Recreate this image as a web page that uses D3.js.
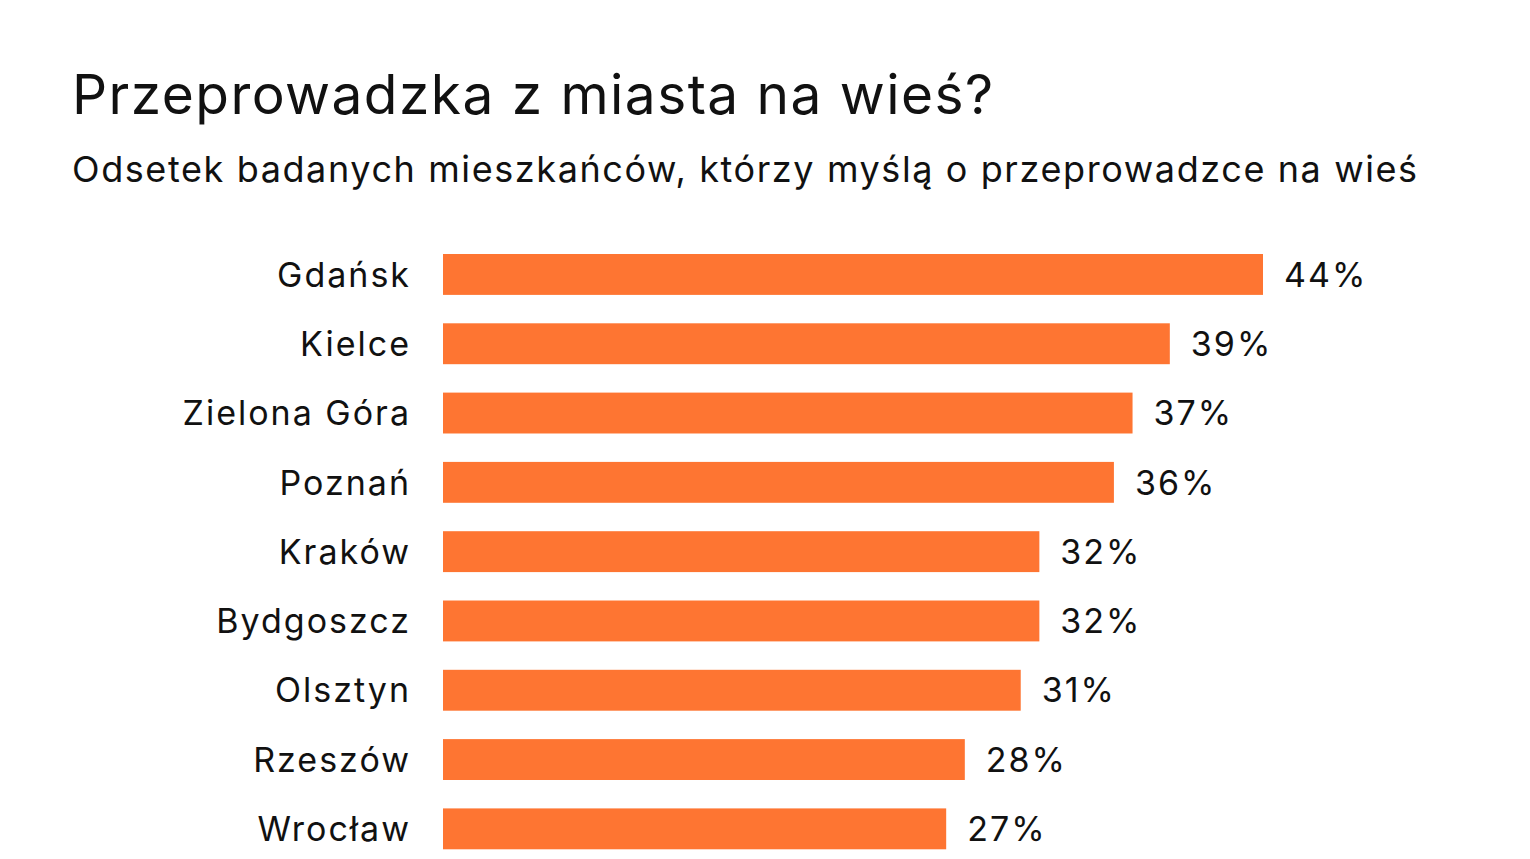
<!DOCTYPE html>
<html>
<head>
<meta charset="utf-8">
<script src="https://cdn.jsdelivr.net/npm/d3@7"></script>
<style>
  body { margin: 0; background: #fff; }
  svg { display: block; font-family: "Inter", "Noto Sans", sans-serif; }
  .title { font-size: 55px; fill: #111; letter-spacing: 1.45px; }
  .subtitle { font-size: 36px; fill: #111; letter-spacing: 1.6px; }
  .city { font-size: 34px; fill: #111; letter-spacing: 2px; }
  .value { font-size: 34px; fill: #111; letter-spacing: 2px; }
  .bar { fill: #fe7532; }
</style>
</head>
<body>
<div id="chart"></div>
<script>
// data
const cities = ["Gdańsk", "Kielce", "Zielona Góra", "Poznań", "Kraków", "Bydgoszcz", "Olsztyn", "Rzeszów", "Wrocław"];
const shares = [44, 39, 37, 36, 32, 32, 31, 28, 27];
const titleText = "Przeprowadzka z miasta na wieś?";
const subtitleText = "Odsetek badanych mieszkańców, którzy myślą o przeprowadzce na wieś";

const total_width = 1530;
const total_height = 859;

const rows = cities.map((c, i) => ({city: c, share: shares[i]}));

const svg = d3.select("#chart").append("svg")
    .attr("width", total_width)
    .attr("height", total_height);

svg.append("text")
    .attr("class", "title")
    .attr("x", 72)
    .attr("y", 114)
    .text(titleText);

svg.append("text")
    .attr("class", "subtitle")
    .attr("x", 72)
    .attr("y", 182)
    .text(subtitleText);

// scales
const x = d3.scaleLinear()
    .domain([0, 44])
    .range([443, 1263]);

const y = d3.scaleBand()
    .domain(cities)
    .range([239.8, 863.5])
    .paddingInner(0.41)
    .paddingOuter(0.205);

const g = svg.append("g");

g.selectAll("rect").data(rows).enter().append("rect")
    .attr("class", "bar")
    .attr("x", x(0))
    .attr("y", d => y(d.city))
    .attr("width", d => x(d.share) - x(0))
    .attr("height", y.bandwidth());

// letter-spacing trails the last glyph, so nudge end-anchored labels right
g.selectAll(".city").data(rows).enter().append("text")
    .attr("class", "city")
    .attr("x", 411)
    .attr("y", d => y(d.city) + y.bandwidth() / 2)
    .attr("dy", "0.36em")
    .attr("text-anchor", "end")
    .text(d => d.city);

g.selectAll(".value").data(rows).enter().append("text")
    .attr("class", "value")
    .attr("x", d => x(d.share) + 21)
    .attr("y", d => y(d.city) + y.bandwidth() / 2)
    .attr("dy", "0.36em")
    .text(d => d.share + "%");
</script>
</body>
</html>
